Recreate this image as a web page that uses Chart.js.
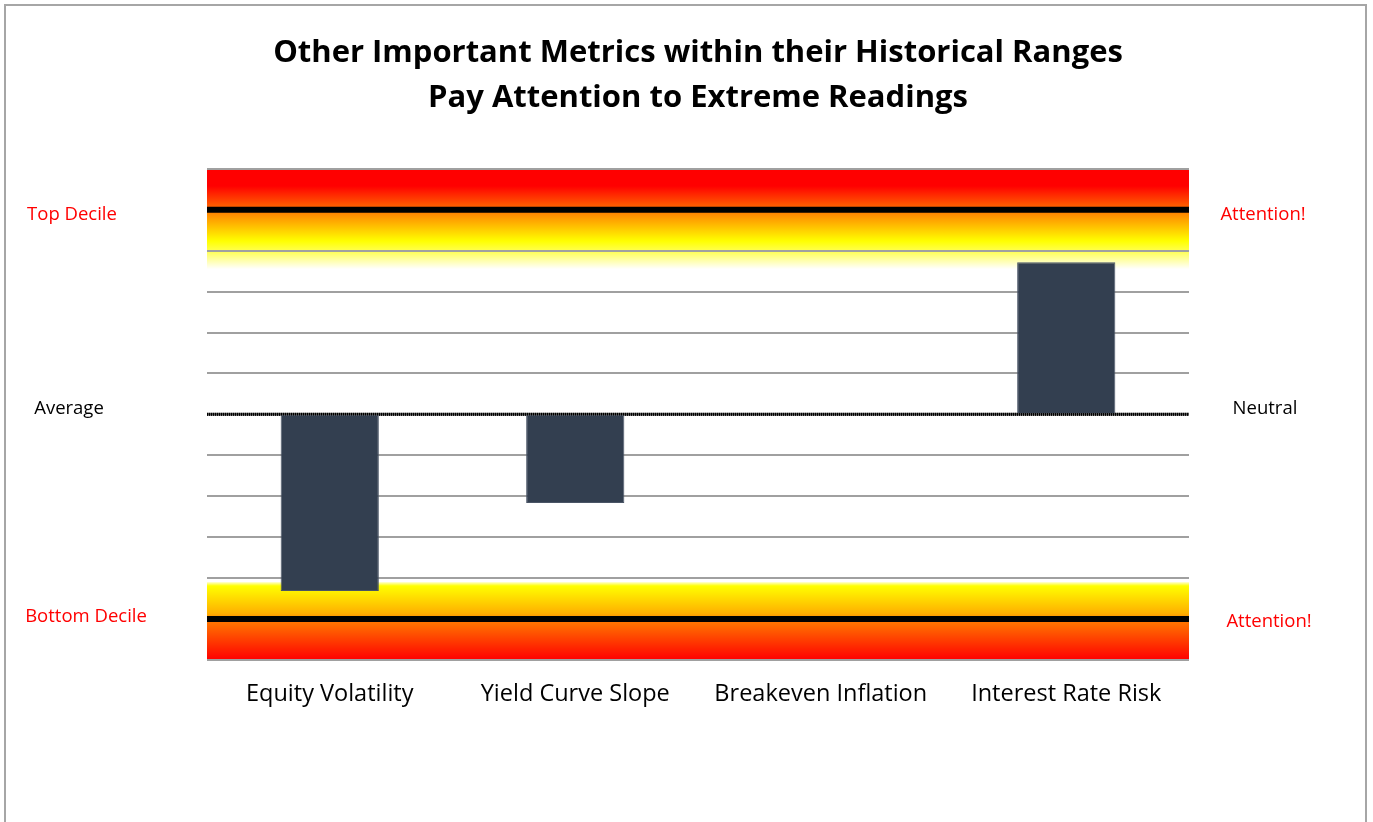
<!DOCTYPE html>
<html>
<head>
<meta charset="utf-8">
<script src="https://cdn.jsdelivr.net/npm/chart.js@4"></script>
<style>
  html, body { margin: 0; padding: 0; background: #fff; }
  #wrap { position: relative; width: 1373px; height: 822px; }
</style>
</head>
<body>
<div id="wrap"><canvas id="c"></canvas></div>
<script>
// metrics relative to their historical average (0 = average, ±5 = decile)
const CATEGORIES = ['Equity Volatility', 'Yield Curve Slope', 'Breakeven Inflation', 'Interest Rate Risk'];
const READINGS   = [-4.32, -2.17, 0, 3.72];
const TITLE      = ['Other Important Metrics within their Historical Ranges', 'Pay Attention to Extreme Readings'];
const DECILES    = [5, -5];
const TOP_BAND   = [3.55, 6];
const BOTTOM_BAND = [-6, -4.1];
const SIDE_LABELS = [
  { left: 'Top Decile',    right: 'Attention!', value: 5,  color: '#ff0000', xL: 72, xR: 1263, dyL: 5,  dyR: 5 },
  { left: 'Average',       right: 'Neutral',    value: 0,  color: '#000000', xL: 69, xR: 1265, dyL: -6, dyR: -6 },
  { left: 'Bottom Decile', right: 'Attention!', value: -5, color: '#ff0000', xL: 86, xR: 1269, dyL: -2, dyR: 3 },
];

const FONT = '"Open Sans", "Noto Sans", sans-serif';

const bandsPlugin = {
  id: 'bands',
  beforeDraw(chart) {
    const { ctx, chartArea: a, scales: { y } } = chart;
    ctx.save();
    // outer frame
    ctx.strokeStyle = '#a6a6a6';
    ctx.lineWidth = 2;
    ctx.strokeRect(5, 5, chart.width - 12, chart.height + 20);

    // top band: red -> orange -> yellow -> white
    let y0 = y.getPixelForValue(TOP_BAND[1]), y1 = y.getPixelForValue(TOP_BAND[0]);
    let g = ctx.createLinearGradient(0, y0, 0, y1);
    g.addColorStop(0, '#ff0000');
    g.addColorStop(0.17, '#ff0000');
    g.addColorStop(0.4, '#ff6a00');
    g.addColorStop(0.45, '#ff8a00');
    g.addColorStop(0.72, '#ffff00');
    g.addColorStop(0.82, '#ffff50');
    g.addColorStop(1, 'rgba(255,255,255,1)');
    ctx.fillStyle = g;
    ctx.fillRect(a.left, y0, a.right - a.left, y1 - y0);

    // bottom band: yellow -> orange -> red
    y0 = y.getPixelForValue(BOTTOM_BAND[1]); y1 = y.getPixelForValue(BOTTOM_BAND[0]);
    g = ctx.createLinearGradient(0, y0, 0, y1);
    g.addColorStop(0, '#ffffd0');
    g.addColorStop(0.05, '#ffff00');
    g.addColorStop(0.4, '#ffb000');
    g.addColorStop(0.5, '#ff7800');
    g.addColorStop(1, '#ff0000');
    ctx.fillStyle = g;
    ctx.fillRect(a.left, y0, a.right - a.left, y1 - y0);
    ctx.restore();
  },
  beforeDatasetsDraw(chart) {
    const { ctx, chartArea: a, scales: { y } } = chart;
    ctx.save();
    // decile lines
    ctx.strokeStyle = '#000';
    ctx.lineWidth = 6;
    DECILES.forEach(v => {
      const py = y.getPixelForValue(v);
      ctx.beginPath(); ctx.moveTo(a.left, py); ctx.lineTo(a.right, py); ctx.stroke();
    });
    // textured average line
    const pz = y.getPixelForValue(0);
    ctx.lineWidth = 3;
    ctx.strokeStyle = '#555';
    ctx.beginPath(); ctx.moveTo(a.left, pz); ctx.lineTo(a.right, pz); ctx.stroke();
    ctx.setLineDash([1, 1]);
    ctx.strokeStyle = '#000';
    ctx.beginPath(); ctx.moveTo(a.left, pz); ctx.lineTo(a.right, pz); ctx.stroke();
    ctx.restore();
  },
  afterDraw(chart) {
    const { ctx, scales: { y } } = chart;
    ctx.save();
    ctx.font = '18.5px ' + FONT;
    ctx.textBaseline = 'middle';
    ctx.textAlign = 'center';
    SIDE_LABELS.forEach(l => {
      const py = y.getPixelForValue(l.value);
      ctx.fillStyle = l.color;
      ctx.fillText(l.left, l.xL, py + l.dyL);
      ctx.fillText(l.right, l.xR, py + l.dyR);
    });
    ctx.restore();
  }
};

new Chart(document.getElementById('c'), {
  type: 'bar',
  data: {
    labels: CATEGORIES,
    datasets: [{
      data: READINGS,
      backgroundColor: '#333f50',
      borderColor: '#4a5566',
      borderWidth: 1,
      barPercentage: 0.4,
      categoryPercentage: 1,
    }]
  },
  options: {
    responsive: true,
    maintainAspectRatio: false,
    animation: false,
    layout: { padding: { left: 207, right: 184, top: 31, bottom: 102 } },
    plugins: {
      legend: { display: false },
      tooltip: { enabled: false },
      title: {
        display: true,
        text: TITLE,
        color: '#000',
        font: { family: FONT, size: 31, weight: 'bold', lineHeight: 1.45 },
        padding: { top: 0, bottom: 48 },
      },
    },
    scales: {
      x: {
        grid: { display: false },
        border: { display: false },
        ticks: { color: '#000', font: { family: FONT, size: 23.5 }, padding: 12, maxRotation: 0 },
      },
      y: {
        min: -6, max: 6,
        ticks: { display: false, stepSize: 1 },
        border: { display: false },
        grid: {
          color: ctx => ctx.tick.value === 0 ? 'rgba(0,0,0,0)' : '#a0a0a0',
          lineWidth: 2,
          drawTicks: false,
        },
      },
    },
  },
  plugins: [bandsPlugin],
});
</script>
</body>
</html>
